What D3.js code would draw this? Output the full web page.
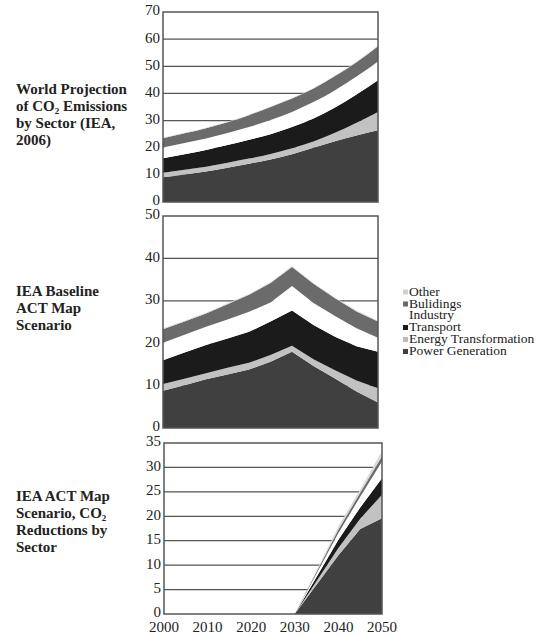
<!DOCTYPE html>
<html lang="en">
<head>
<meta charset="UTF-8">
<title>CO2 Emissions by Sector</title>
<script src="https://d3js.org/d3.v7.min.js"></script>
<style>
  body { margin: 0; background: #fff; }
  svg text { font-family: "Liberation Serif", "DejaVu Serif", serif; fill: #222; }
</style>
</head>
<body>
<svg id="chart" width="542" height="636"></svg>
<script>
  // sectors bottom to top; values below are the upper edge of each band (cumulative)
  const sectors = ["Power Generation", "Energy Transformation", "Transport", "Industry", "Bulidings", "Other"];
  const sectorColors = ["#404040", "#c2c2c2", "#1b1b1b", "#ffffff", "#6b6b6b", "#d8d8d8"];

  const years = [2000, 2005, 2010, 2015, 2020, 2025, 2030, 2035, 2040, 2045, 2050];
  const reductionYears = [2030, 2040, 2045, 2050];
  const xTicks = [2000, 2010, 2020, 2030, 2040, 2050];

  // World projection (IEA, 2006)
  const worldPower     = [9.1, 10.1, 11.2, 12.6, 14.1, 15.7, 17.6, 20.0, 22.4, 24.5, 26.4];
  const worldEnergy    = [10.8, 11.9, 13.0, 14.5, 16.0, 17.7, 19.8, 22.3, 25.5, 29.2, 33.2];
  const worldTransport = [16.1, 17.6, 19.2, 21.0, 22.9, 25.0, 27.6, 30.8, 34.8, 39.6, 44.9];
  const worldIndustry  = [20.1, 21.7, 23.4, 25.4, 27.6, 30.2, 33.2, 36.8, 41.2, 46.2, 51.8];
  const worldBuildings = [23.5, 25.3, 27.2, 29.4, 32.0, 35.0, 38.1, 41.8, 46.4, 51.5, 57.4];
  const worldOther     = [23.7, 25.5, 27.4, 29.6, 32.2, 35.2, 38.3, 42.0, 46.6, 51.8, 57.7];

  // IEA baseline ACT Map scenario
  const basePower     = [8.8, 10.1, 11.5, 12.6, 13.8, 15.6, 18.0, 14.6, 11.7, 8.6, 6.0];
  const baseEnergy    = [10.4, 11.6, 12.9, 14.2, 15.4, 17.2, 19.4, 16.2, 13.6, 11.2, 9.4];
  const baseTransport = [16.0, 17.8, 19.6, 21.1, 22.7, 25.1, 27.7, 24.3, 21.5, 19.3, 18.0];
  const baseIndustry  = [20.1, 22.0, 23.9, 25.6, 27.4, 29.6, 33.5, 29.5, 26.4, 23.5, 21.3];
  const baseBuildings = [23.3, 25.1, 27.0, 29.2, 31.4, 34.2, 38.0, 34.0, 30.6, 27.5, 25.1];
  const baseOther     = [23.5, 25.3, 27.2, 29.4, 31.6, 34.4, 38.2, 34.2, 30.8, 27.7, 25.3];

  // IEA ACT Map scenario, CO2 reductions
  const redPower     = [0, 12.0, 17.4, 19.6];
  const redEnergy    = [0, 13.5, 19.5, 24.4];
  const redTransport = [0, 15.2, 21.8, 27.8];
  const redIndustry  = [0, 16.6, 24.0, 31.2];
  const redBuildings = [0, 17.3, 24.8, 32.3];
  const redOther     = [0, 17.9, 25.5, 33.3];

  const svg = d3.select("#chart");

  const panels = [
    { years: years, bands: [worldPower, worldEnergy, worldTransport, worldIndustry, worldBuildings, worldOther],
      ymax: 70, step: 10, xr: [163, 378], yr: [202, 12], curve: d3.curveMonotoneX },
    { years: years, bands: [basePower, baseEnergy, baseTransport, baseIndustry, baseBuildings, baseOther],
      ymax: 50, step: 10, xr: [163, 378], yr: [428, 216], curve: d3.curveLinear },
    { years: reductionYears, bands: [redPower, redEnergy, redTransport, redIndustry, redBuildings, redOther],
      ymax: 35, step: 5, xr: [164, 382], yr: [614, 443], curve: d3.curveLinear }
  ];

  let lastX;
  panels.forEach(p => {
    const x = d3.scaleLinear().domain([2000, 2050]).range(p.xr);
    const y = d3.scaleLinear().domain([0, p.ymax]).range(p.yr);
    const ticks = d3.range(0, p.ymax + 0.001, p.step);
    const g = svg.append("g");

    // gridlines behind the bands
    g.selectAll(".grid").data(ticks.slice(1, -1)).join("line")
      .attr("x1", p.xr[0]).attr("x2", p.xr[1])
      .attr("y1", d => y(d)).attr("y2", d => y(d))
      .attr("stroke", "#555").attr("stroke-width", 1.3);

    p.bands.forEach((band, k) => {
      const lower = k === 0 ? band.map(() => 0) : p.bands[k - 1];
      const area = d3.area()
        .curve(p.curve)
        .x((d, i) => x(p.years[i]))
        .y0((d, i) => y(lower[i]))
        .y1(d => y(d));
      g.append("path").datum(band).attr("d", area).attr("fill", sectorColors[k]);
    });

    g.append("rect")
      .attr("x", p.xr[0]).attr("y", p.yr[1])
      .attr("width", p.xr[1] - p.xr[0]).attr("height", p.yr[0] - p.yr[1])
      .attr("fill", "none").attr("stroke", "#555").attr("stroke-width", 1.5);

    g.selectAll(".ylab").data(ticks).join("text")
      .attr("x", p.xr[0] - 3).attr("y", d => y(d))
      .attr("text-anchor", "end").attr("dominant-baseline", "middle")
      .attr("font-size", 15).text(d => d);

    lastX = x;
  });

  svg.selectAll(".xlab").data(xTicks).join("text")
    .attr("x", d => lastX(d)).attr("y", 629)
    .attr("text-anchor", "middle").attr("dominant-baseline", "middle")
    .attr("font-size", 15).text(d => d);

  // left-hand panel titles
  function title(lines, y0) {
    lines.forEach((ln, i) => {
      const t = svg.append("text").attr("x", 16).attr("y", y0 + i * 17)
        .attr("font-size", 15).attr("font-weight", "bold");
      if (Array.isArray(ln)) {
        t.append("tspan").text(ln[0]);
        t.append("tspan").attr("font-size", 9).attr("dy", 3).text("2");
        t.append("tspan").attr("dy", -3).text(ln[1]);
      } else {
        t.text(ln);
      }
    });
  }
  title(["World Projection", ["of CO", " Emissions"], "by Sector (IEA,", "2006)"], 94);
  title(["IEA Baseline", "ACT Map", "Scenario"], 296);
  title(["IEA ACT Map", ["Scenario, CO", ""], "Reductions by", "Sector"], 501);

  // legend, top to bottom
  const legendNames = ["Other", "Bulidings", "Industry", "Transport", "Energy Transformation", "Power Generation"];
  const legendColors = ["#d0d0d0", "#6b6b6b", null, "#1b1b1b", "#bbbbbb", "#404040"];
  const legendY = [292.5, 304.5, 316, 328, 340, 352];
  const lg = svg.append("g");
  legendNames.forEach((name, i) => {
    if (legendColors[i]) {
      lg.append("rect").attr("x", 403).attr("y", legendY[i] - 3)
        .attr("width", 5).attr("height", 5).attr("fill", legendColors[i]);
    }
    lg.append("text").attr("x", 409).attr("y", legendY[i])
      .attr("dominant-baseline", "middle").attr("font-size", 13.5).text(name);
  });
</script>
</body>
</html>
